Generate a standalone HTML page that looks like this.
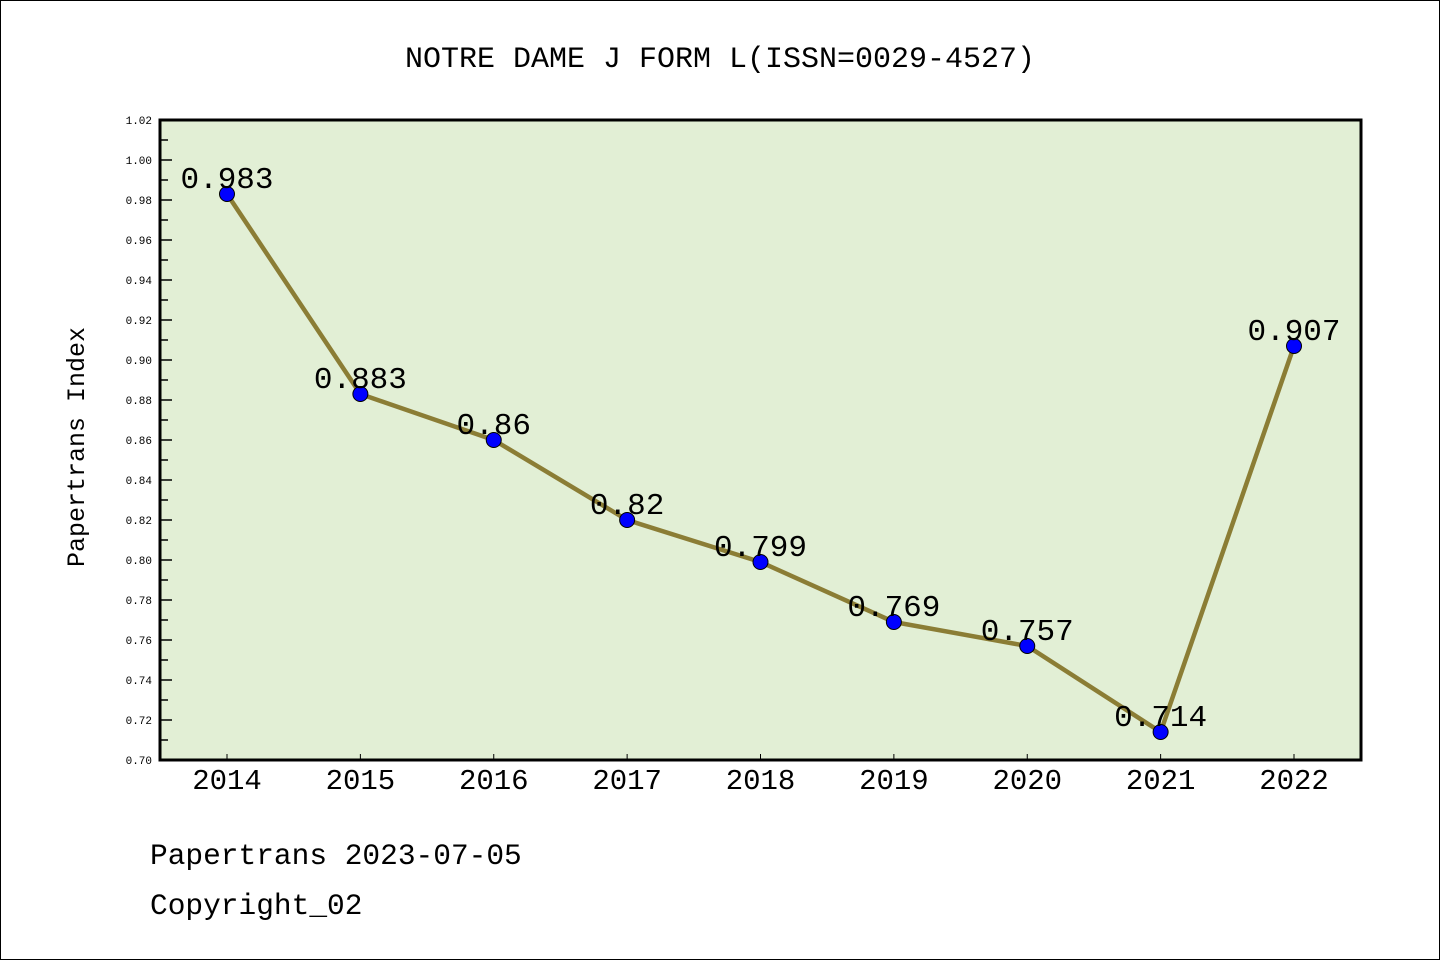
<!DOCTYPE html>
<html><head><meta charset="utf-8"><style>
html,body{margin:0;padding:0;background:#fff}
svg{display:block}
text{font-family:"Liberation Mono","DejaVu Sans Mono",monospace}
</style></head><body>
<svg id="chart" width="1440" height="960" xmlns="http://www.w3.org/2000/svg">
<rect x="0.5" y="0.5" width="1439" height="959" fill="#fff" stroke="#000"/>
<text x="720" y="67" text-anchor="middle" font-size="30">NOTRE DAME J FORM L(ISSN=0029-4527)</text>
<rect x="160" y="120" width="1201" height="640" fill="#e2efd5"/>
<g id="ticks"></g>
<g id="series"></g>
<rect x="160" y="120" width="1201" height="640" fill="none" stroke="#000" stroke-width="3"/>
<text transform="translate(84,447) rotate(-90)" text-anchor="middle" font-size="25">Papertrans Index</text>
<text x="150" y="864" font-size="29.5">Papertrans 2023-07-05</text>
<text x="150" y="914" font-size="29.5">Copyright_02</text>
</svg>
<script>
const categories = ["2014","2015","2016","2017","2018","2019","2020","2021","2022"];
const values = [0.983,0.883,0.86,0.82,0.799,0.769,0.757,0.714,0.907];
const valueLabels = ["0.983","0.883","0.86","0.82","0.799","0.769","0.757","0.714","0.907"];
const yTicks = ["0.70","0.72","0.74","0.76","0.78","0.80","0.82","0.84","0.86","0.88","0.90","0.92","0.94","0.96","0.98","1.00","1.02"];
const NS="http://www.w3.org/2000/svg";
const yMin=0.70,yMax=1.02,plotTop=120,plotBot=760;
function yScale(v){return plotBot-(v-yMin)/(yMax-yMin)*(plotBot-plotTop);}
function xScale(i){return 227+i*(1294-227)/(categories.length-1);}
function mk(tag,attrs,parent){const e=document.createElementNS(NS,tag);for(const k in attrs)e.setAttribute(k,attrs[k]);parent.appendChild(e);return e;}
const tg=document.getElementById('ticks'), sg=document.getElementById('series');
yTicks.forEach((t,i)=>{
  const v=parseFloat(t), yy=yScale(v);
  const ln=mk('line',{x1:160,x2:172,y1:yy,y2:yy,stroke:'#000','stroke-width':1.5},tg);
  
  
  const tx=mk('text',{x:152,y:yy+4,'text-anchor':'end','font-size':11,'font-family':'Liberation Sans, sans-serif'},tg);
  
  
  tx.textContent=t;
  if(i<yTicks.length-1){
    const ym=yScale(v+0.01);
    const mn=mk('line',{x1:160,x2:168,y1:ym,y2:ym,stroke:'#000','stroke-width':1.5},tg);
    
    
  }
});
categories.forEach((c,i)=>{
  const xt=mk('line',{x1:xScale(i),x2:xScale(i),y1:754,y2:760,stroke:'#000','stroke-width':1},tg);
  
  
  const tx=mk('text',{x:xScale(i),y:789,'text-anchor':'middle','font-size':29,'font-family':'Liberation Sans, sans-serif'},tg);
  
  
  tx.textContent=c;
});
const line=mk('polyline',{points:values.map((v,i)=>xScale(i)+','+yScale(v)).join(' '),fill:'none',stroke:'#8b7d35','stroke-width':4.5,'stroke-linejoin':'round'},sg);


values.forEach((v,i)=>{
  const p=mk('circle',{cx:xScale(i),cy:yScale(v),r:7.5,fill:'#0000ff',stroke:'#000','stroke-width':1},sg);
  
  
  const t=mk('text',{x:xScale(i),y:yScale(v)-6,'text-anchor':'middle','font-size':31},sg);
  
  
  t.textContent=valueLabels[i];
});
</script>
</body></html>
